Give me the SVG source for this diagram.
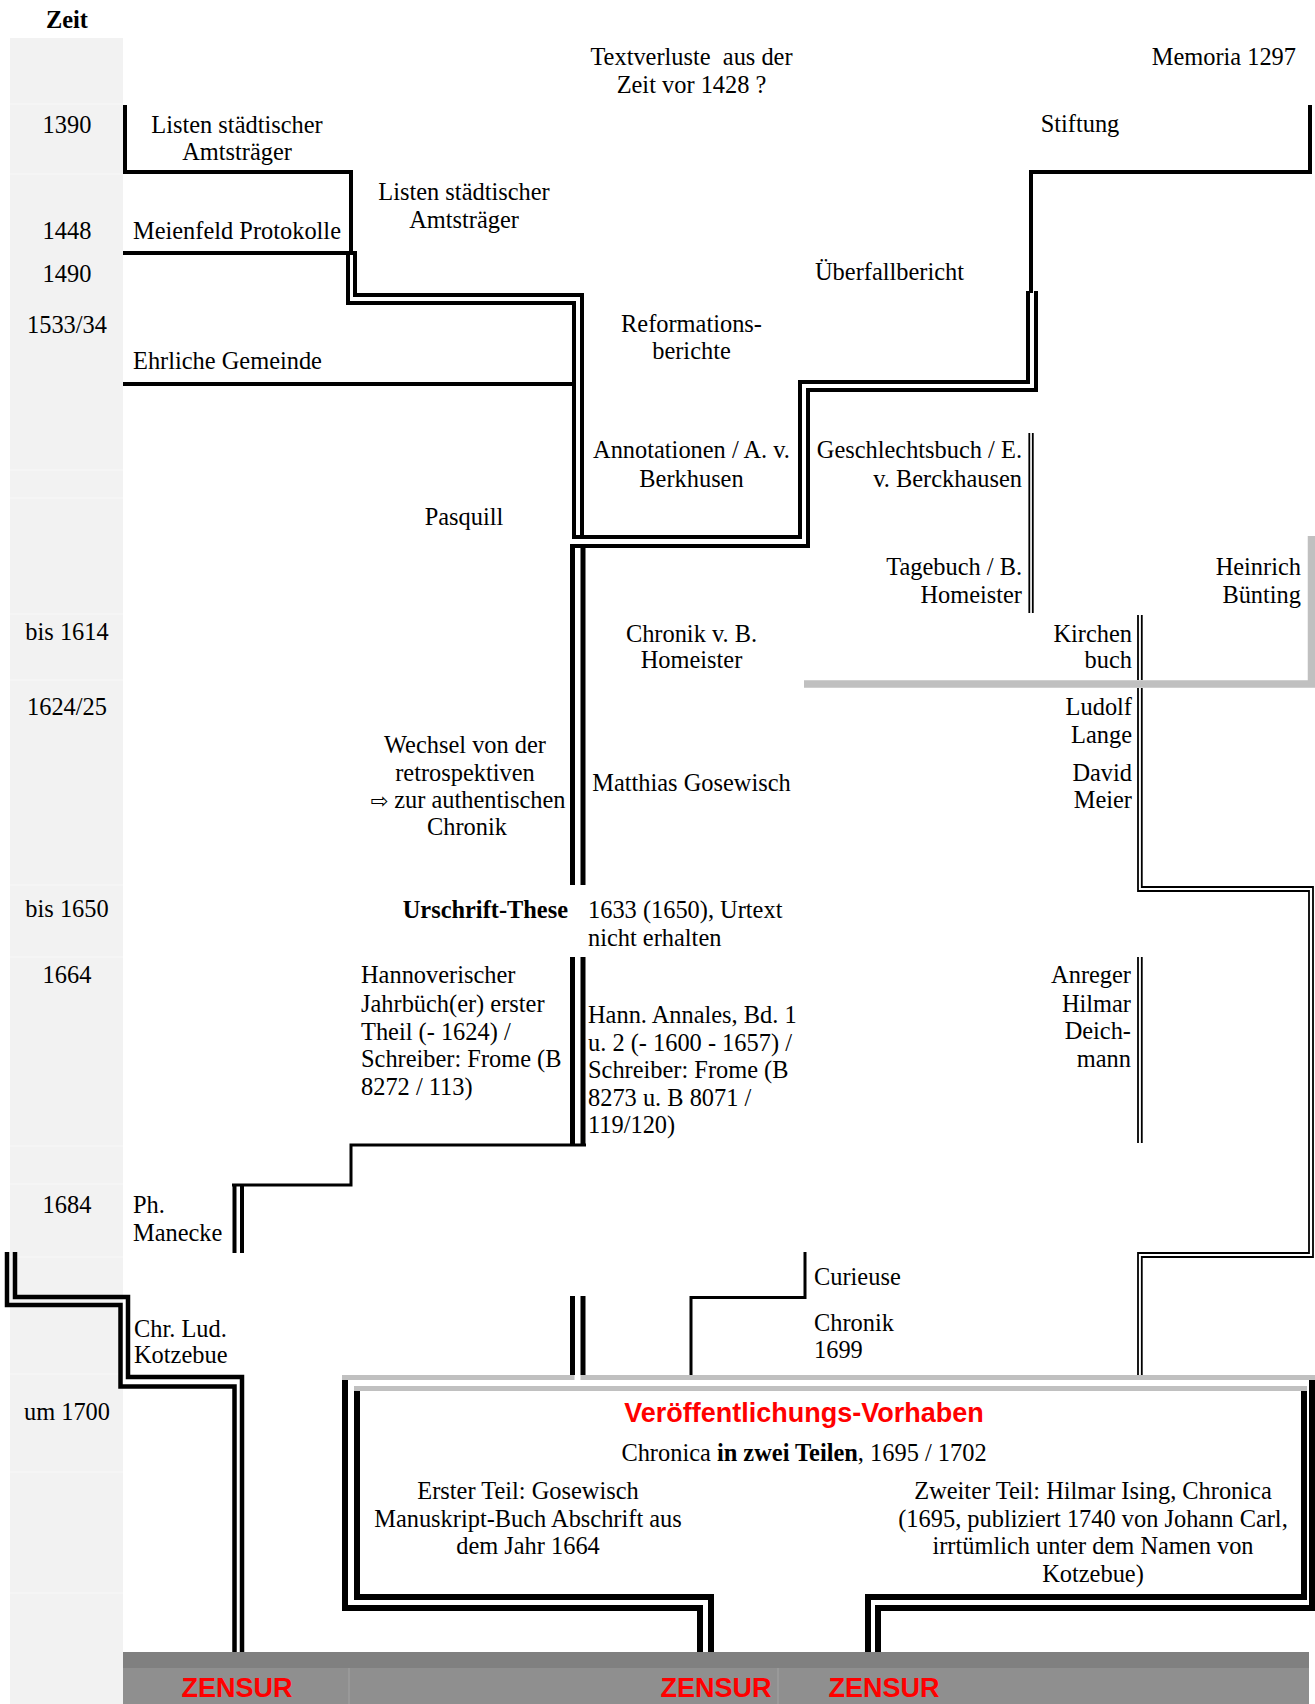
<svg xmlns="http://www.w3.org/2000/svg" width="1315" height="1704" viewBox="0 0 1315 1704">
<style>
text{font-family:"Liberation Serif","Times New Roman",serif;font-size:24.4px;fill:#000}
.m{text-anchor:middle}
.e{text-anchor:end}
.bd{font-weight:bold}
.pre{white-space:pre}
.red{font-family:"Liberation Sans",Arial,sans-serif;font-weight:bold;fill:#f00;font-size:27px}
.z{font-size:27px}
.l4{fill:none;stroke:#000;stroke-width:4}
.d4{fill:none;stroke:#000;stroke-width:4}
.d45{fill:none;stroke:#000;stroke-width:4.5}
.d5{fill:none;stroke:#000;stroke-width:5}
.thin{fill:none;stroke:#000;stroke-width:1.8}
.t3{fill:none;stroke:#000;stroke-width:3}
.gr{fill:none;stroke:#c0c0c0}
.bx{fill:none;stroke:#000;stroke-width:6}
.sep{stroke:#f8f8f8;stroke-width:1}
</style>
<rect x="0" y="0" width="1315" height="1704" fill="#fff"/>
<g id="time-axis">
<rect x="10" y="38" width="113" height="1666" fill="#f2f2f2"/>
<g class="sep">
<line x1="10" x2="123" y1="104" y2="104"/>
<line x1="10" x2="123" y1="174" y2="174"/>
<line x1="10" x2="123" y1="470" y2="470"/>
<line x1="10" x2="123" y1="498" y2="498"/>
<line x1="10" x2="123" y1="614" y2="614"/>
<line x1="10" x2="123" y1="680" y2="680"/>
<line x1="10" x2="123" y1="885" y2="885"/>
<line x1="10" x2="123" y1="957" y2="957"/>
<line x1="10" x2="123" y1="1146" y2="1146"/>
<line x1="10" x2="123" y1="1184" y2="1184"/>
<line x1="10" x2="123" y1="1257" y2="1257"/>
<line x1="10" x2="123" y1="1374" y2="1374"/>
<line x1="10" x2="123" y1="1472" y2="1472"/>
<line x1="10" x2="123" y1="1593" y2="1593"/>
</g>
<text x="67" y="28" class="m bd">Zeit</text>
<text x="67" y="133" class="m">1390</text>
<text x="67" y="239" class="m">1448</text>
<text x="67" y="282" class="m">1490</text>
<text x="67" y="333" class="m">1533/34</text>
<text x="67" y="640" class="m">bis 1614</text>
<text x="67" y="715" class="m">1624/25</text>
<text x="67" y="917" class="m">bis 1650</text>
<text x="67" y="983" class="m">1664</text>
<text x="67" y="1213" class="m">1684</text>
<text x="67" y="1420" class="m">um 1700</text>
</g>
<g id="zensur-bar">
<rect x="123" y="1652" width="1186" height="16" fill="#808080"/>
<rect x="123" y="1668" width="1186" height="36" fill="#8f8f8f"/>
<line x1="349" x2="349" y1="1668" y2="1704" stroke="#9c9c9c" stroke-width="1.5"/>
<line x1="778" x2="778" y1="1668" y2="1704" stroke="#9c9c9c" stroke-width="1.5"/>
<text x="237" y="1697" class="m red z">ZENSUR</text>
<text x="716" y="1697" class="m red z">ZENSUR</text>
<text x="884" y="1697" class="m red z">ZENSUR</text>
</g>
<g id="connectors">
<path class="l4" d="M125,105 V172 H351 V253"/>
<path class="l4" d="M123,253 H357"/>
<path class="l4" d="M123,384 H576"/>
<path class="d4" d="M355,252 V295 H582 V539"/>
<path class="d4" d="M348,252 V303 H574 V539"/>
<path class="l4" d="M1310,105 V172 H1031 V293"/>
<path class="d4" d="M1028,291 V382 H800 V537 H572"/>
<path class="d4" d="M1036,291 V390 H808 V546 H572"/>
<path class="d5" d="M572.5,544 V885 M583,544 V885 M572.5,957 V1145 M583,957 V1145 M572.5,1296 V1375 M583,1296 V1375"/>
<path class="t3" d="M586,1145 H351 V1185 H232"/>
<path class="d4" d="M234.5,1184 V1253 M242,1184 V1253"/>
<path class="d45" d="M15,1252 V1297 H128 V1377 H242 V1652"/>
<path class="d45" d="M7,1252 V1305 H120.5 V1386.5 H234.5 V1652"/>
<path class="t3" d="M805,1252 V1297.5 H691 V1375"/>
<path class="thin" d="M1029.3,433 V613 M1032.8,433 V613"/>
<path class="thin" d="M1138,615 V680 M1141.8,615 V680"/>
<path class="thin" d="M1141.8,688 V887 H1313 V1257 H1141.8 V1375"/>
<path class="thin" d="M1138,688 V891 H1309 V1253 H1138 V1375"/>
<path class="thin" d="M1138,957 V1143 M1141.8,957 V1143"/>
<path class="gr" stroke-width="7.5" d="M1311.5,536 V684 H804"/>
</g>
<g id="n-vorhaben">
<path class="gr" stroke-width="5" d="M342,1377.5 H574.5 M580.5,1377.5 H1315 M354,1388.5 H1307"/>
<path class="bx" d="M345,1380 V1608 H700 V1652"/>
<path class="bx" d="M357,1391 V1597 H711 V1652"/>
<path class="bx" d="M1312,1380 V1608 H878 V1652"/>
<path class="bx" d="M1304,1391 V1597 H868 V1652"/>
<text x="804" y="1422" class="m red">Veröffentlichungs-Vorhaben</text>
<text x="804" y="1461" class="m">Chronica <tspan class="bd">in zwei Teilen</tspan>, 1695 / 1702</text>
<text x="528" y="1499" class="m">Erster Teil: Gosewisch</text>
<text x="528" y="1527" class="m">Manuskript-Buch Abschrift aus</text>
<text x="528" y="1554" class="m">dem Jahr 1664</text>
<text x="1093" y="1499" class="m">Zweiter Teil: Hilmar Ising, Chronica</text>
<text x="1093" y="1527" class="m">(1695, publiziert 1740 von Johann Carl,</text>
<text x="1093" y="1554" class="m">irrtümlich unter dem Namen von</text>
<text x="1093" y="1582" class="m">Kotzebue)</text>
</g>
<g id="n-textverluste"><text x="691.5" y="65" class="m pre">Textverluste  aus der</text><text x="691.5" y="93" class="m">Zeit vor 1428 ?</text></g>
<g id="n-memoria"><text x="1296" y="65" class="e">Memoria 1297</text></g>
<g id="n-listen1"><text x="237" y="133" class="m">Listen städtischer</text><text x="237" y="160" class="m">Amtsträger</text></g>
<g id="n-stiftung"><text x="1080" y="132" class="m">Stiftung</text></g>
<g id="n-listen2"><text x="464" y="200" class="m">Listen städtischer</text><text x="464" y="228" class="m">Amtsträger</text></g>
<g id="n-meienfeld"><text x="133" y="239">Meienfeld Protokolle</text></g>
<g id="n-ueberfall"><text x="815" y="280">Überfallbericht</text></g>
<g id="n-reformation"><text x="691.5" y="332" class="m">Reformations-</text><text x="691.5" y="359" class="m">berichte</text></g>
<g id="n-ehrliche"><text x="133" y="369">Ehrliche Gemeinde</text></g>
<g id="n-annotationen"><text x="691.5" y="458" class="m">Annotationen / A. v.</text><text x="691.5" y="487" class="m">Berkhusen</text></g>
<g id="n-geschlechtsbuch"><text x="1022" y="458" class="e">Geschlechtsbuch / E.</text><text x="1022" y="487" class="e">v. Berckhausen</text></g>
<g id="n-pasquill"><text x="464" y="525" class="m">Pasquill</text></g>
<g id="n-tagebuch"><text x="1022" y="575" class="e">Tagebuch / B.</text><text x="1022" y="603" class="e">Homeister</text></g>
<g id="n-buenting"><text x="1301" y="575" class="e">Heinrich</text><text x="1301" y="603" class="e">Bünting</text></g>
<g id="n-chronik-homeister"><text x="691.5" y="642" class="m">Chronik v. B.</text><text x="691.5" y="668" class="m">Homeister</text></g>
<g id="n-kirchenbuch"><text x="1132" y="642" class="e">Kirchen</text><text x="1132" y="668" class="e">buch</text></g>
<g id="n-lange"><text x="1132" y="715" class="e">Ludolf</text><text x="1132" y="743" class="e">Lange</text></g>
<g id="n-meier"><text x="1132" y="781" class="e">David</text><text x="1132" y="808" class="e">Meier</text></g>
<g id="n-wechsel"><text x="465" y="753" class="m">Wechsel von der</text><text x="465" y="781" class="m">retrospektiven</text><text x="468" y="808" class="m"><tspan font-family="DejaVu Sans,sans-serif" font-size="21">⇨</tspan> zur authentischen</text><text x="467" y="835" class="m">Chronik</text></g>
<g id="n-gosewisch"><text x="691.5" y="791" class="m">Matthias Gosewisch</text></g>
<g id="n-urschrift"><text x="568" y="918" class="e bd">Urschrift-These</text></g>
<g id="n-urtext"><text x="588" y="918">1633 (1650), Urtext</text><text x="588" y="946">nicht erhalten</text></g>
<g id="n-hannover"><text x="361" y="983">Hannoverischer</text><text x="361" y="1012">Jahrbüch(er) erster</text><text x="361" y="1040">Theil (- 1624) /</text><text x="361" y="1067">Schreiber: Frome (B</text><text x="361" y="1095">8272 / 113)</text></g>
<g id="n-anreger"><text x="1131" y="983" class="e">Anreger</text><text x="1131" y="1012" class="e">Hilmar</text><text x="1131" y="1039" class="e">Deich-</text><text x="1131" y="1067" class="e">mann</text></g>
<g id="n-annales"><text x="588" y="1023">Hann. Annales, Bd. 1</text><text x="588" y="1051">u. 2 (- 1600 - 1657) /</text><text x="588" y="1078">Schreiber: Frome (B</text><text x="588" y="1106">8273 u. B 8071 /</text><text x="588" y="1133">119/120)</text></g>
<g id="n-manecke"><text x="133" y="1213">Ph.</text><text x="133" y="1241">Manecke</text></g>
<g id="n-curieuse"><text x="814" y="1285">Curieuse</text><text x="814" y="1331">Chronik</text><text x="814" y="1358">1699</text></g>
<g id="n-kotzebue"><text x="134" y="1337">Chr. Lud.</text><text x="134" y="1363">Kotzebue</text></g>
</svg>
